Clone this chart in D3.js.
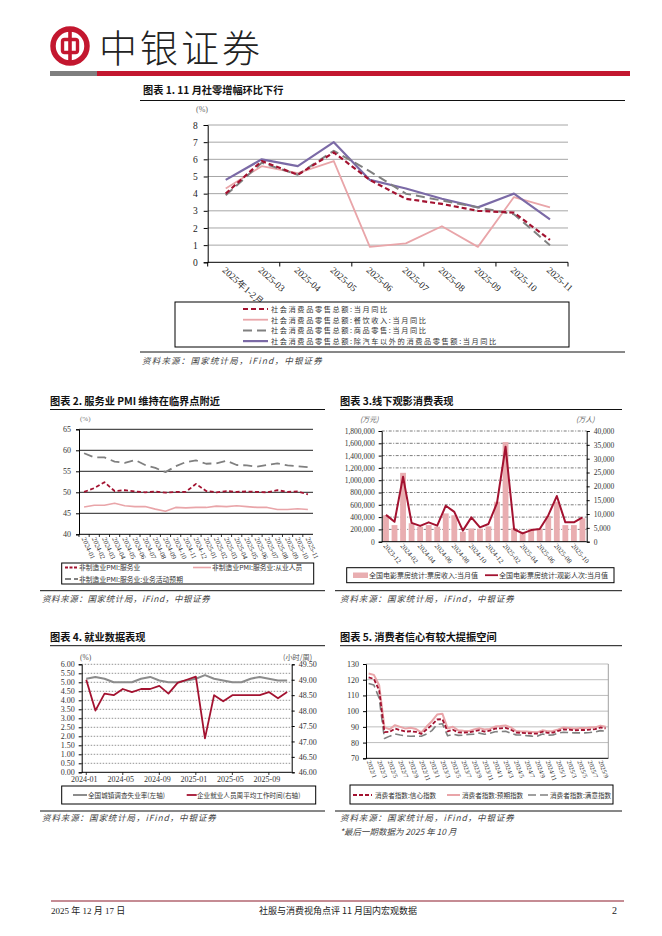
<!DOCTYPE html>
<html><head><meta charset="utf-8">
<script src="https://cdn.jsdelivr.net/npm/d3@7"></script>
<style>body{margin:0;background:#fff}svg{display:block}</style>
</head><body><svg id="c" width="662" height="936"></svg>
<script>
// ---------------- DATA ----------------
const cats1 = ["2025年1-2月","2025-03","2025-04","2025-05","2025-06","2025-07","2025-08","2025-09","2025-10","2025-11"];
const retailTotal = [4.0,5.9,5.1,6.4,4.8,3.7,3.4,3.0,2.9,1.3];
const retailCatering = [4.3,5.6,5.2,5.9,0.9,1.1,2.1,0.9,3.8,3.2];
const retailGoods = [3.9,5.8,5.1,6.5,5.3,4.0,3.6,3.2,2.8,1.0];
const retailExAuto = [4.8,6.0,5.6,7.0,4.8,4.3,3.7,3.2,4.0,2.5];
const names1 = ["社会消费品零售总额:当月同比","社会消费品零售总额:餐饮收入:当月同比","社会消费品零售总额:商品零售:当月同比","社会消费品零售总额:除汽车以外的消费品零售额:当月同比"];
const yTicks1 = [0,1,2,3,4,5,6,7,8];

const cats2 = ["2024-01","2024-02","2024-03","2024-04","2024-05","2024-06","2024-07","2024-08","2024-09","2024-10","2024-11","2024-12","2025-01","2025-02","2025-03","2025-04","2025-05","2025-06","2025-07","2025-08","2025-09","2025-10","2025-11"];
const pmiService = [50.1,51.0,52.4,50.3,50.5,50.2,50.0,50.2,49.9,50.1,50.1,52.0,50.3,50.0,50.3,50.1,50.2,50.1,50.0,50.5,50.1,50.2,49.5];
const pmiEmploy = [46.5,46.9,46.9,47.4,46.8,46.6,46.6,46.0,45.5,46.4,46.3,46.4,46.4,46.7,46.6,46.8,46.6,46.4,46.4,45.9,45.9,46.1,45.9];
const pmiExpect = [59.3,58.3,58.3,57.3,57.0,57.7,56.5,55.8,54.8,56.2,57.2,57.6,56.8,56.9,57.5,56.5,56.4,56.1,56.5,56.9,56.4,56.2,56.0];
const names2 = ["非制造业PMI:服务业","非制造业PMI:服务业:从业人员","非制造业PMI:服务业:业务活动预期"];
const yTicks2 = [40,45,50,55,60,65];

const cats3 = ["2023-12","2024-01","2024-02","2024-03","2024-04","2024-05","2024-06","2024-07","2024-08","2024-09","2024-10","2024-11","2024-12","2025-01","2025-02","2025-03","2025-04","2025-05","2025-06","2025-07","2025-08","2025-09","2025-10","2025-11"];
const boxOffice = [430000,270000,1120000,300000,245000,270000,245000,460000,430000,160000,215000,210000,250000,650000,1620000,220000,160000,210000,210000,420000,650000,270000,270000,380000];
const audience = [9700,7200,23500,6800,5700,7000,5800,13000,10800,4000,8800,5200,6400,14000,34300,4500,3000,4200,4600,9500,16500,7000,7000,8800];
const xLabels3 = ["2023-12","2024-02","2024-04","2024-06","2024-08","2024-10","2024-12","2025-02","2025-04","2025-06","2025-08","2025-10"];
const names3 = ["全国电影票房统计:票房收入:当月值","全国电影票房统计:观影人次:当月值"];
const yTicks3L = [0,200000,400000,600000,800000,1000000,1200000,1400000,1600000,1800000];
const yTicks3R = [0,5000,10000,15000,20000,25000,30000,35000,40000];

const cats4 = cats2;
const unemployment = [5.2,5.3,5.2,5.0,5.0,5.0,5.2,5.3,5.1,5.0,5.0,5.1,5.2,5.4,5.2,5.1,5.0,5.0,5.2,5.3,5.2,5.1,5.1];
const workHours = [49.0,48.0,48.55,48.5,48.7,48.6,48.7,48.7,48.8,48.55,48.9,49.0,49.1,47.1,48.5,48.3,48.5,48.5,48.5,48.5,48.6,48.4,48.6];
const xLabels4 = ["2024-01","2024-05","2024-09","2025-01","2025-05","2025-09"];
const names4 = ["全国城镇调查失业率(左轴)","企业就业人员周平均工作时间(右轴)"];
const yTicks4L = [0,0.5,1,1.5,2,2.5,3,3.5,4,4.5,5,5.5,6];
const yTicks4R = [46,46.5,47,47.5,48,48.5,49,49.5];

const cats5 = ["2022/1","2022/2","2022/3","2022/4","2022/5","2022/6","2022/7","2022/8","2022/9","2022/10","2022/11","2022/12",
"2023/1","2023/2","2023/3","2023/4","2023/5","2023/6","2023/7","2023/8","2023/9","2023/10","2023/11","2023/12",
"2024/1","2024/2","2024/3","2024/4","2024/5","2024/6","2024/7","2024/8","2024/9","2024/10","2024/11","2024/12",
"2025/1","2025/2","2025/3","2025/4","2025/5","2025/6","2025/7","2025/8","2025/9","2025/10"];
const confidence = [121.5,120.5,113.2,86.7,86.8,88.9,87.9,87.0,87.2,86.8,85.5,88.3,
91.2,94.7,94.9,87.1,88.2,86.5,86.4,86.5,87.2,87.9,87.0,87.6,
88.9,89.1,89.4,88.2,86.4,86.2,86.0,85.8,85.7,86.9,86.2,86.4,
87.5,88.4,88.2,87.8,88.0,88.0,88.3,88.5,89.6,89.0];
const expectation = [124.0,123.1,116.5,89.7,88.5,91.1,90.0,88.9,89.4,88.6,86.5,90.2,
93.6,97.8,98.4,89.0,90.1,87.8,87.5,87.3,88.4,89.2,88.3,88.7,
90.2,90.5,90.9,89.7,87.4,87.1,87.0,86.8,86.5,87.8,87.2,87.4,
88.4,89.6,89.3,88.9,89.2,89.2,89.6,89.7,90.8,90.1];
const satisfaction = [117.6,116.6,108.2,82.6,84.1,85.5,84.8,84.3,84.0,84.1,84.0,85.4,
87.6,91.5,92.0,84.3,85.3,84.6,84.7,85.2,85.4,86.0,85.3,85.9,
86.9,87.0,87.2,86.0,84.9,84.8,84.4,84.1,84.0,85.5,84.7,84.9,
86.0,86.6,86.4,86.2,86.2,86.2,86.4,86.7,87.6,87.2];
const names5 = ["消费者指数:信心指数","消费者指数:预期指数","消费者指数:满意指数"];
const yTicks5 = [70,80,90,100,110,120,130];

// ---------------- STYLE ----------------
const BRAND="#C3172F", DARK="#A31230", PINK="#E9A5A9", GRAY="#808080", PURPLE="#7B6AA6", BAR="#E9AEB1";
const SERIF='"Liberation Serif","DejaVu Serif",serif';
const CJK='"Noto Sans CJK SC",sans-serif';

const svg = d3.select("#c");
svg.append("rect").attr("width",662).attr("height",936).attr("fill","#fff");

function txt(g,x,y,s,o={}){
  const t=g.append("text").attr("x",x).attr("y",y).text(s)
   .attr("font-family",o.ff||CJK).attr("font-size",o.fs||9).attr("fill",o.fill||"#222");
  if(o.anchor) t.attr("text-anchor",o.anchor);
  if(o.weight) t.attr("font-weight",o.weight);
  if(o.italic) t.attr("font-style","italic");
  if(o.ls) t.attr("letter-spacing",o.ls);
  if(o.rot!==undefined) t.attr("transform",`rotate(${o.rot},${x},${y})`);
  return t;
}
function line(g,x1,y1,x2,y2,c,w,dash){
  const l=g.append("line").attr("x1",x1).attr("y1",y1).attr("x2",x2).attr("y2",y2).attr("stroke",c).attr("stroke-width",w||1);
  if(dash) l.attr("stroke-dasharray",dash);
  return l;
}
function path(g,vals,xs,ys,c,w,dash){
  const gen=d3.line().x((d,i)=>xs(xs.domain()[i])+xs.bandwidth()/2).y(d=>ys(d));
  const p=g.append("path").attr("d",gen(vals)).attr("fill","none").attr("stroke",c).attr("stroke-width",w).attr("stroke-linejoin","round");
  if(dash) p.attr("stroke-dasharray",dash);
  return p;
}
function title(x,y,x1,x2,ly,s){
  txt(svg,x,y,s,{fs:10.2,weight:"bold",fill:"#111"});
  line(svg,x1,ly,x2,ly,"#111",1);
}
function source(x1,x2,ly,ty,tx,ls){
  line(svg,x1,ly,x2,ly,"#111",1);
  txt(svg,tx,ty,"资料来源：国家统计局，iFind，中银证券",{fs:8.5,italic:true,fill:"#444",ls:ls});
}

// ---------------- HEADER ----------------
const hd=svg.append("g");
hd.append("circle").attr("cx",70).attr("cy",46).attr("r",17).attr("fill","none").attr("stroke",BRAND).attr("stroke-width",5.5);
hd.append("rect").attr("x",62.5).attr("y",39.5).attr("width",15).attr("height",13).attr("rx",2).attr("fill","none").attr("stroke",BRAND).attr("stroke-width",3.4);
hd.append("rect").attr("x",68.2).attr("y",29).attr("width",3.6).attr("height",34).attr("fill",BRAND);
txt(hd,99,62,"中银证券",{fs:38,fill:"#222",weight:300}).attr("letter-spacing",3);
hd.append("rect").attr("x",50).attr("y",71).attr("width",580).attr("height",5).attr("fill",BRAND);
hd.append("rect").attr("x",50).attr("y",71).attr("width",47).attr("height",5).attr("fill","#7f7f7f");

// ---------------- CHART 1 ----------------
title(143,94,140,625,100.5,"图表 1. 11 月社零增幅环比下行");
{
  const g=svg.append("g");
  const x=d3.scaleBand().domain(cats1).range([207.7,568]);
  const y=d3.scaleLinear().domain([0,8]).range([262.3,125]);
  yTicks1.slice(1).forEach(t=>line(g,207.7,y(t),568,y(t),"#a6a6a6",1));
  const ax=g.append("g").attr("transform","translate(207.7,0)").call(d3.axisLeft(y).tickValues(yTicks1).tickSize(4).tickFormat(d3.format("d")));
  ax.selectAll("text").attr("font-family",SERIF).attr("font-size",9.5).attr("fill","#222").attr("dx",-3);
  ax.selectAll("line,path").attr("stroke","#000");
  line(g,207.7,262.3,568,262.3,"#000",1);
  d3.range(0,cats1.length+1,2).forEach(i=>{const xx=207.7+i*x.bandwidth(); line(g,xx,262.3,xx,266.5,"#000",1);});
  txt(g,208,112,"(%)",{ff:SERIF,fs:8,fill:"#666",anchor:"end"});
  cats1.forEach(c=>txt(g,x(c)+x.bandwidth()/2-4,271,c,{ff:SERIF,fs:9.5,rot:42,fill:"#222"}));
  path(g,retailCatering,x,y,PINK,1.8);
  path(g,retailExAuto,x,y,PURPLE,2.2);
  path(g,retailGoods,x,y,GRAY,2,"9,5");
  path(g,retailTotal,x,y,DARK,2.2,"5,3");
  // legend
  g.append("rect").attr("x",175).attr("y",302).attr("width",394).attr("height",45).attr("fill","#fff").attr("stroke","#000");
  const st=[[DARK,2,"5,3"],[PINK,1.8,null],[GRAY,2,"9,5"],[PURPLE,2.2,null]];
  names1.forEach((n,i)=>{const yy=309+i*10.7; line(g,243,yy,268,yy,st[i][0],st[i][1],st[i][2]); txt(g,271,yy+2.8,n,{fs:7.2,fill:"#333",ls:1.6});});
}
source(140,625,352,364,142,1.2);

// ---------------- CHART 2 ----------------
title(50,405,50,325,409.5,"图表 2. 服务业 PMI 维持在临界点附近");
{
  const g=svg.append("g");
  const x=d3.scaleBand().domain(cats2).range([79,313]);
  const y=d3.scaleLinear().domain([40,65]).range([534.3,429.3]);
  yTicks2.slice(1).forEach(t=>line(g,79,y(t),313,y(t),"#222",1));
  const ax=g.append("g").attr("transform","translate(79,0)").call(d3.axisLeft(y).tickValues(yTicks2).tickSize(3));
  ax.selectAll("text").attr("font-family",SERIF).attr("font-size",8).attr("fill","#333").attr("dx",-2);
  ax.selectAll("line,path").attr("stroke","#000");
  line(g,79,534.3,313,534.3,"#000",1);
  cats2.forEach((c,i)=>{const xx=79+i*x.bandwidth(); line(g,xx,534.3,xx,537,"#000",0.8);});
  txt(g,80,421,"(%)",{ff:SERIF,fs:7,fill:"#777"});
  cats2.forEach(c=>txt(g,x(c)+x.bandwidth()/2-2.5,538.5,c,{ff:SERIF,fs:7,rot:66,fill:"#333"}));
  path(g,pmiEmploy,x,y,PINK,1.6);
  path(g,pmiExpect,x,y,GRAY,1.8,"9,5");
  path(g,pmiService,x,y,DARK,1.8,"4,2.5");
  g.append("rect").attr("x",61.7).attr("y",563).attr("width",252).attr("height",21).attr("fill","none").attr("stroke","#000");
  line(g,65,567.5,78,567.5,DARK,1.8,"3,1.5"); txt(g,79,570,names2[0],{fs:6.8,fill:"#333"});
  line(g,193,567.5,211,567.5,PINK,1.6); txt(g,212,570,names2[1],{fs:6.8,fill:"#333"});
  line(g,65,579,78,579,GRAY,1.8,"6,3"); txt(g,79,581.5,names2[2],{fs:6.8,fill:"#333"});
}
source(40,325,590.7,602,42,0.6);

// ---------------- CHART 3 ----------------
title(340,405,340,622,409.5,"图表 3.线下观影消费表现");
{
  const g=svg.append("g");
  const x=d3.scaleBand().domain(cats3).range([381.7,586.7]);
  const yL=d3.scaleLinear().domain([0,1800000]).range([541.7,431]);
  const yR=d3.scaleLinear().domain([0,40000]).range([541.7,431]);
  yTicks3L.slice(1).forEach(t=>line(g,381.7,yL(t),586.7,yL(t),"#444",0.7,"3,1.5,1,1.5"));
  const bw=x.bandwidth()*0.68;
  g.selectAll("rect.b").data(boxOffice).enter().append("rect")
    .attr("x",(d,i)=>x(cats3[i])+(x.bandwidth()-bw)/2).attr("y",d=>yL(d)).attr("width",bw).attr("height",d=>yL(0)-yL(d)).attr("fill",BAR);
  const fmt=d3.format(",");
  const axL=g.append("g").attr("transform","translate(381.7,0)").call(d3.axisLeft(yL).tickValues(yTicks3L).tickSize(3).tickFormat(fmt));
  axL.selectAll("text").attr("font-family",SERIF).attr("font-size",7.5).attr("fill","#333").attr("dx",-1);
  axL.selectAll("line,path").attr("stroke","#000");
  const axR=g.append("g").attr("transform","translate(586.7,0)").call(d3.axisRight(yR).tickValues(yTicks3R).tickSize(3).tickFormat(fmt));
  axR.selectAll("text").attr("font-family",SERIF).attr("font-size",7.5).attr("fill","#333").attr("dx",1);
  axR.selectAll("line,path").attr("stroke","#000");
  line(g,381.7,541.7,586.7,541.7,"#000",1);
  txt(g,360,422,"(万元)",{fs:7,fill:"#555",italic:true});
  txt(g,576,422,"(万人)",{fs:7,fill:"#555",italic:true});
  xLabels3.forEach(c=>txt(g,x(c)+x.bandwidth()/2-3,546,c,{ff:SERIF,fs:7,rot:50,fill:"#333"}));
  path(g,audience,x,yR,DARK,2);
  g.append("rect").attr("x",346.7).attr("y",567.7).attr("width",267.3).attr("height",15).attr("fill","none").attr("stroke","#000");
  g.append("rect").attr("x",353).attr("y",572.5).attr("width",15).attr("height",5.5).attr("fill",BAR);
  txt(g,369,578,names3[0],{fs:7,fill:"#333"});
  line(g,485,575.2,498,575.2,DARK,1.8); txt(g,499,578,names3[1],{fs:7,fill:"#333"});
}
source(335,622,590.7,602,340,0.9);

// ---------------- CHART 4 ----------------
title(50,641,50,325,645.7,"图表 4. 就业数据表现");
{
  const g=svg.append("g");
  const x=d3.scaleBand().domain(cats4).range([81.7,291.7]);
  const yL=d3.scaleLinear().domain([0,6]).range([772.3,664.3]);
  const yR=d3.scaleLinear().domain([46,49.5]).range([772.3,664.3]);
  yTicks4L.slice(1).forEach(t=>line(g,81.7,yL(t),291.7,yL(t),"#777",0.8,"1.5,1.5"));
  const f2=d3.format(".2f");
  const axL=g.append("g").attr("transform","translate(81.7,0)").call(d3.axisLeft(yL).tickValues(yTicks4L).tickSize(3).tickFormat(f2));
  axL.selectAll("text").attr("font-family",SERIF).attr("font-size",8).attr("fill","#333").attr("dx",-1);
  axL.selectAll("line,path").attr("stroke","#000");
  const axR=g.append("g").attr("transform","translate(291.7,0)").call(d3.axisRight(yR).tickValues(yTicks4R).tickSize(3).tickFormat(f2));
  axR.selectAll("text").attr("font-family",SERIF).attr("font-size",8).attr("fill","#333").attr("dx",1);
  axR.selectAll("line,path").attr("stroke","#000");
  line(g,81.7,772.3,291.7,772.3,"#000",1);
  xLabels4.forEach(c=>{const xx=x(c)+x.bandwidth()/2; line(g,xx,772.3,xx,775,"#000",0.8); txt(g,xx-2,781.5,c,{ff:SERIF,fs:8,anchor:"middle",fill:"#333"});});
  txt(g,80,660,"(%)",{ff:SERIF,fs:7.5,fill:"#555"});
  txt(g,283,660,"(小时/周)",{fs:7.2,fill:"#555"});
  path(g,unemployment,x,yL,"#8c8c8c",2);
  path(g,workHours,x,yR,DARK,1.8);
  g.append("rect").attr("x",61.7).attr("y",786).attr("width",254).attr("height",18).attr("fill","none").attr("stroke","#000");
  line(g,73,795,87,795,"#8c8c8c",2); txt(g,88,797.6,names4[0],{fs:6.6,fill:"#333"});
  line(g,186.7,795,196.7,795,DARK,1.8); txt(g,197,797.6,names4[1],{fs:6.6,fill:"#333"});
}
source(40,325,811,821,42,0.9);

// ---------------- CHART 5 ----------------
title(340,641,340,622,645.7,"图表 5. 消费者信心有较大提振空间");
{
  const g=svg.append("g");
  const x=d3.scaleBand().domain(cats5).range([366,608.3]);
  const y=d3.scaleLinear().domain([70,130]).range([758.3,664]);
  yTicks5.slice(1).forEach(t=>line(g,366,y(t),608.3,y(t),"#bdbdbd",1));
  line(g,608.3,664,608.3,758.3,"#a0a0a0",1);
  const ax=g.append("g").attr("transform","translate(366,0)").call(d3.axisLeft(y).tickValues(yTicks5).tickSize(3));
  ax.selectAll("text").attr("font-family",SERIF).attr("font-size",8).attr("fill","#333").attr("dx",-1);
  ax.selectAll("line,path").attr("stroke","#000");
  line(g,366,758.3,608.3,758.3,"#000",1);
  cats5.forEach((c,i)=>{if(i%2===0){const xx=x(c)+x.bandwidth()/2; txt(g,xx-2,761.5,c,{ff:SERIF,fs:6.5,rot:70,fill:"#333"});}});
  path(g,expectation,x,y,PINK,2);
  path(g,satisfaction,x,y,GRAY,1.6,"8,4");
  path(g,confidence,x,y,DARK,1.8,"4,2");
  g.append("rect").attr("x",350).attr("y",785).attr("width",263).attr("height",19).attr("fill","none").attr("stroke","#000");
  line(g,353,795,372,795,DARK,1.8,"4,2"); txt(g,375,797.5,names5[0],{fs:6.6,fill:"#333"});
  line(g,447,795,460,795,PINK,2); txt(g,462,797.5,names5[1],{fs:6.6,fill:"#333"});
  line(g,528,795,548,795,GRAY,1.6,"8,4"); txt(g,550,797.5,names5[2],{fs:6.6,fill:"#333"});
}
source(335,622,811,821,340,0.9);
txt(svg,340,835,"*最后一期数据为 2025 年 10 月",{fs:8.5,italic:true,fill:"#444"});

// ---------------- FOOTER ----------------
line(svg,51,901,624,901,"#8B1A2B",1.2);
txt(svg,51,914,"2025 年 12 月 17 日",{fs:9,fill:"#222",ff:'"Liberation Serif","Noto Sans CJK SC",serif'});
txt(svg,338,914,"社服与消费视角点评 11 月国内宏观数据",{fs:9,fill:"#222",anchor:"middle"});
txt(svg,617,914,"2",{fs:10,fill:"#222",ff:SERIF,anchor:"end"});
</script></body></html>
